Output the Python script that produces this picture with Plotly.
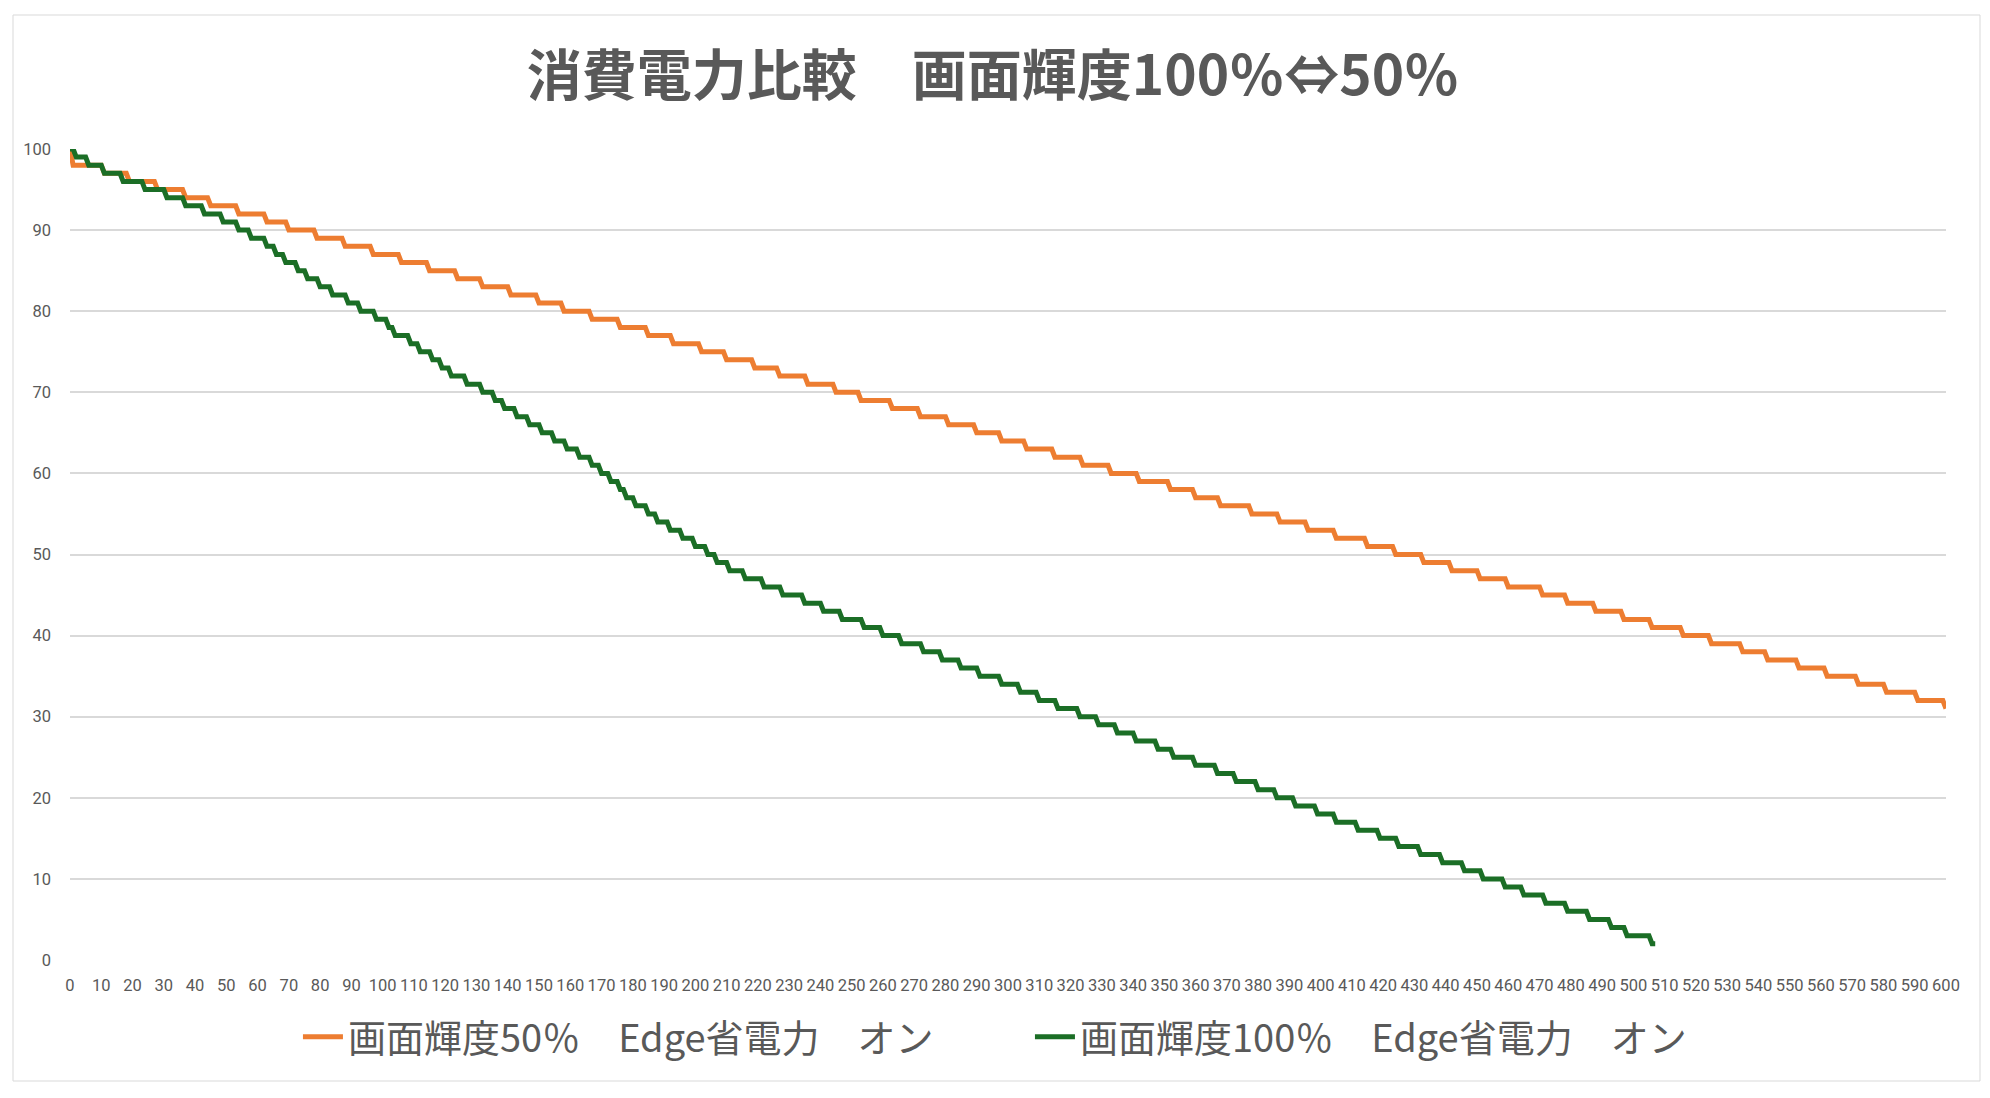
import plotly.graph_objects as go

# ---- data (battery %, minute at which each level starts) ----
orange_name = "画面輝度50％　Edge省電力　オン"
orange_levels = [100] + list(range(98, 30, -1))
orange_start = [0, 1, 11, 19, 28, 37, 45, 54, 63, 70, 79, 88,
                97, 106, 115, 124, 132, 141, 150, 158, 167, 176,
                185, 193, 202, 210, 219, 227, 236, 245, 253, 263,
                272, 281, 290, 298, 306, 315, 324, 333, 342, 352,
                360, 368, 378, 387, 396, 405, 415, 424, 433, 442,
                451, 460, 471, 479, 488, 497, 506, 516, 525, 535,
                543, 553, 562, 572, 581, 591, 600]
orange_last_minute = 600

green_name = "画面輝度100％　Edge省電力　オン"
green_levels = list(range(100, 1, -1))
green_start = [0, 2, 6, 11, 17, 24, 31, 37, 43, 49,
               54, 58, 63, 66, 69, 73, 76, 80, 84, 89,
               93, 98, 102, 104, 109, 112, 116, 119, 122, 127,
               132, 136, 139, 143, 147, 151, 155, 159, 163, 167,
               170, 173, 176, 178, 181, 185, 188, 192, 196, 200,
               204, 207, 211, 216, 222, 228, 235, 241, 247, 254,
               260, 266, 273, 279, 285, 291, 298, 304, 310, 316,
               323, 329, 335, 341, 348, 353, 360, 367, 373, 380,
               386, 392, 399, 405, 412, 419, 425, 432, 439, 446,
               452, 459, 465, 472, 479, 486, 493, 498, 506]
green_last_minute = 507

x_ticks = list(range(0, 601, 10))
y_ticks = list(range(0, 101, 10))
title_text = "消費電力比較　画面輝度100％⇔50％"


def per_minute(levels, starts, last):
    xs, ys = [], []
    k = 0
    for m in range(0, last + 1):
        while k + 1 < len(starts) and starts[k + 1] <= m:
            k += 1
        xs.append(m)
        ys.append(levels[k])
    return xs, ys


ox, oy = per_minute(orange_levels, orange_start, orange_last_minute)
gx, gy = per_minute(green_levels, green_start, green_last_minute)

ORANGE = "#ED7D31"
GREEN = "#1B6E26"
TEXT = "#595959"
GRID = "#D9D9D9"
CJK = "Noto Sans CJK JP"
TICKF = "Roboto, sans-serif"

fig = go.Figure()
fig.add_trace(go.Scatter(x=ox, y=oy, mode="lines", name=orange_name,
                         line=dict(color=ORANGE, width=5), cliponaxis=False))
fig.add_trace(go.Scatter(x=gx, y=gy, mode="lines", name=green_name,
                         line=dict(color=GREEN, width=5), cliponaxis=False))

W, H = 1990, 1098
L, R, T, B = 70, 44, 149, 138
pw, ph = W - L - R, H - T - B


def px_x(p):
    return (p - L) / pw


def px_y(p):
    return (H - B - p) / ph


shapes = [dict(type="rect", xref="paper", yref="paper",
               x0=px_x(13), x1=px_x(1980), y0=px_y(1081), y1=px_y(15),
               line=dict(color=GRID, width=1), fillcolor="rgba(0,0,0,0)",
               layer="below")]

fig.update_layout(
    width=W, height=H,
    margin=dict(l=L, r=R, t=T, b=B),
    paper_bgcolor="white", plot_bgcolor="white",
    title=dict(text="<b>" + title_text + "</b>", x=px_x(993), xanchor="center",
               xref="paper", y=1 - 76 / H, yref="container", yanchor="middle",
               font=dict(family=CJK, size=55, color=TEXT)),
    showlegend=True,
    legend=dict(orientation="h", x=0.5117, xanchor="center", y=px_y(1037),
                yanchor="middle", font=dict(family=CJK, size=38, color=TEXT),
                itemwidth=40, tracegroupgap=0, bgcolor="rgba(0,0,0,0)",
                entrywidthmode="pixels", entrywidth=677),
    xaxis=dict(range=[0, 600], tickmode="array", tickvals=x_ticks,
               ticktext=[str(v) for v in x_ticks], showgrid=False,
               zeroline=False, showline=False, ticks="", tickangle=0,
               ticklabelstandoff=13,
               tickfont=dict(family=TICKF, size=16.5, color=TEXT)),
    yaxis=dict(range=[0, 100], tickmode="array", tickvals=y_ticks,
               showgrid=True, gridcolor=GRID, gridwidth=1.5,
               zeroline=False, showline=False, ticks="",
               ticklabelstandoff=18,
               tickfont=dict(family=TICKF, size=16.5, color=TEXT)),
    shapes=shapes,
)

fig.write_html("out.html")
